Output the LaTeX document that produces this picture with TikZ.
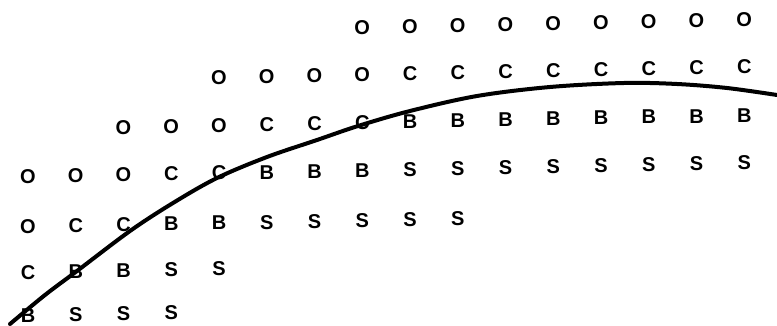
\documentclass[tikz,border=0pt]{standalone}
\usepackage{fontspec}
\setmainfont{Liberation Sans}
\begin{document}
\begin{tikzpicture}[x=1pt,y=-1pt,
  lt/.style={font=\bfseries\fontsize{20}{20}\selectfont, inner sep=0pt, anchor=center},
  boundary/.style={line width=4pt, line cap=round, line join=round}]
\useasboundingbox (0,0) rectangle (777,326);
\foreach \r/\y/\st/\letters in {
  1/35.2/7/{O,O,O,O,O,O,O,O,O},
  2/82.3/4/{O,O,O,O,C,C,C,C,C,C,C,C},
  3/130.4/2/{O,O,O,C,C,C,B,B,B,B,B,B,B,B},
  4/177.6/0/{O,O,O,C,C,B,B,B,S,S,S,S,S,S,S,S},
  5/227.6/0/{O,C,C,B,B,S,S,S,S,S},
  6/273.6/0/{C,B,B,S,S},
  7/315.8/0/{B,S,S,S}} {
  \foreach \L [count=\k from \st] in \letters {
    \pgfmathsetmacro\xx{28+47.75*\k}
    \pgfmathsetmacro\yy{\y-0.0205*\xx}
    \node[lt] (r\r c\k) at (\xx,\yy) {\L};
  }
}
\draw[boundary] plot[smooth, tension=0.55] coordinates {
  (10,324) (45,295) (77,271) (130,231) (173,203) (217,178) (267,157)
  (317,140) (358,126) (410,111) (477,96) (550,87) (624,83) (677,84)
  (727,88) (777,95)};
\end{tikzpicture}
\end{document}
